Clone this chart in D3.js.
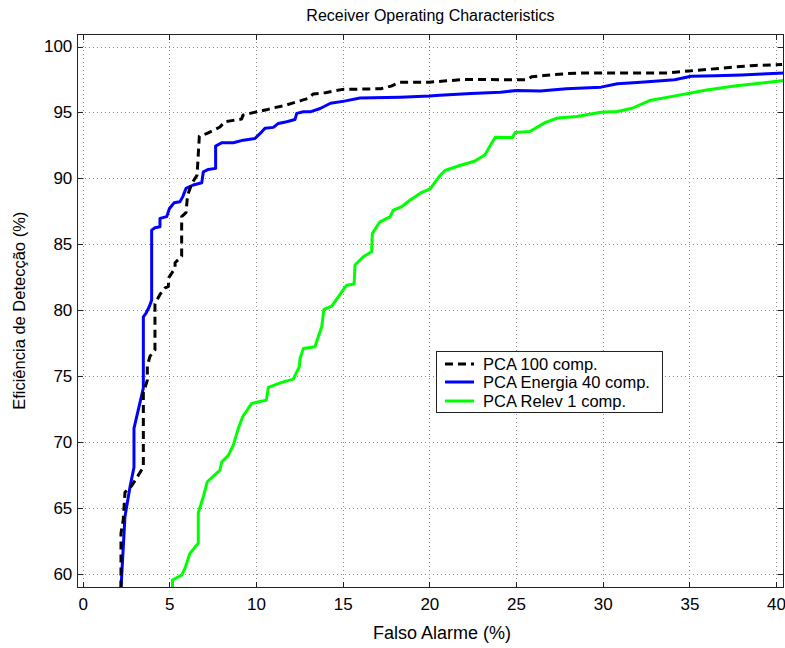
<!DOCTYPE html>
<html>
<head>
<meta charset="utf-8">
<script src="https://cdn.jsdelivr.net/npm/d3@7"></script>
<style>
  html, body { margin: 0; padding: 0; background: #fff; }
  svg { display: block; font-family: "Liberation Sans", Arial, sans-serif; }
</style>
</head>
<body>
<svg id="chart" width="785" height="648"></svg>
<script>
// ROC curves: false alarm rate (%) vs detection efficiency (%)
const pca100X = [2.21,2.21,2.34,2.44,2.83,3.5,3.5,3.73,3.73,3.88,4.17,4.17,4.46,4.75,4.94,4.98,5.33,5.33,5.71,5.71,5.96,6.05,6.29,6.6,6.73,7.15,7.54,7.92,8.2,8.69,9.17,9.25,9.65,10.04,10.6,11.0,11.58,12.15,12.54,13.0,13.3,14.0,15.0,17.2,17.8,18.3,20.0,21.0,22.0,25.6,25.9,26.6,27.9,28.7,33.8,35.0,36.1,37.6,38.8,40.35];
const pca100Y = [58.9,63.1,64.1,66.2,66.7,68.1,73.7,74.7,75.8,76.5,77.0,80.5,81.2,81.7,81.8,82.5,83.2,83.6,84.1,87.1,87.4,88.7,89.6,90.25,93.2,93.4,93.65,93.9,94.3,94.4,94.5,94.8,94.93,95.05,95.2,95.35,95.5,95.73,95.88,96.06,96.4,96.5,96.75,96.8,97.0,97.3,97.3,97.4,97.5,97.48,97.7,97.8,97.94,98.0,98.0,98.15,98.27,98.45,98.57,98.63];

const energiaX = [2.21,2.44,2.73,2.96,2.96,3.5,3.5,3.65,3.84,3.98,3.98,4.17,4.46,4.46,4.85,5.0,5.27,5.61,5.77,5.96,6.38,6.87,6.96,7.25,7.67,7.67,8.02,8.69,9.27,9.94,10.33,10.52,11.0,11.29,11.77,12.25,12.35,12.73,13.12,13.7,14.3,15.1,16.0,18.3,20.0,20.6,22.4,24.1,25.05,26.4,27.9,29.9,30.85,32.2,34.15,35.1,36.5,38.0,39.2,40.45];
const energiaY = [58.9,64.35,66.6,68.1,71.05,74.1,79.5,79.77,80.27,80.77,86.08,86.26,86.33,86.97,87.1,87.7,88.15,88.23,88.6,89.24,89.5,89.67,90.5,90.68,90.76,92.45,92.7,92.7,92.9,93.03,93.53,93.8,93.87,94.17,94.3,94.47,94.93,95.05,95.05,95.3,95.7,95.86,96.09,96.16,96.24,96.3,96.43,96.54,96.67,96.62,96.8,96.92,97.18,97.3,97.48,97.74,97.78,97.84,97.92,97.99];

const relevX = [5.18,5.18,5.71,5.9,6.19,6.67,6.67,6.96,7.19,7.92,8.02,8.4,8.69,8.98,9.23,9.75,10.6,10.71,11.48,12.15,12.5,12.54,12.73,13.4,13.79,13.92,14.37,14.95,15.23,15.66,15.71,16.19,16.67,16.71,17.15,17.73,17.92,18.4,18.88,19.5,20.05,20.6,20.9,21.8,22.6,23.2,23.5,23.8,24.8,24.95,25.8,26.7,27.4,28.5,29.9,30.85,31.7,32.7,33.95,35.3,36.0,37.6,39.2,40.45];
const relevY = [58.94,59.55,59.92,60.43,61.57,62.33,64.65,65.86,67.0,67.88,68.5,69.0,69.78,71.05,71.93,72.94,73.19,74.15,74.53,74.78,75.72,76.35,77.11,77.23,78.75,80.07,80.32,81.4,81.9,81.99,83.43,84.06,84.44,85.83,86.71,87.09,87.6,87.85,88.35,88.9,89.2,90.2,90.6,91.0,91.3,91.77,92.45,93.13,93.1,93.49,93.56,94.25,94.58,94.7,95.02,95.07,95.32,95.9,96.2,96.54,96.71,97.0,97.23,97.43];

const seriesNames = ["PCA 100 comp.", "PCA Energia 40 comp.", "PCA Relev 1 comp."];
const seriesColors = ["#000000", "#0000ff", "#00ff00"];
const seriesDash = ["8,5", null, null];
const xTicks = [0, 5, 10, 15, 20, 25, 30, 35, 40];
const yTicks = [60, 65, 70, 75, 80, 85, 90, 95, 100];

const titleText = "Receiver Operating Characteristics";
const xLabelText = "Falso Alarme (%)";
const yLabelText = "Eficiência de Detecção (%)";

(function drawChart() {
  const series = [
    { name: seriesNames[0], xs: pca100X, ys: pca100Y, color: seriesColors[0], dash: seriesDash[0] },
    { name: seriesNames[1], xs: energiaX, ys: energiaY, color: seriesColors[1], dash: seriesDash[1] },
    { name: seriesNames[2], xs: relevX, ys: relevY, color: seriesColors[2], dash: seriesDash[2] }
  ];

  const svg = d3.select("#chart");
  const pL = 77.3, pR = 783.5, pT = 34, pB = 587.5;

  const x = d3.scaleLinear().domain([-0.31, 40.43]).range([pL, pR]);
  const y = d3.scaleLinear().domain([58.98, 100.95]).range([pB, pT]);

  svg.append("rect").attr("x", pL).attr("y", pT)
    .attr("width", pR - pL).attr("height", pB - pT).attr("fill", "#fff");

  // dotted grid
  const grid = svg.append("g").attr("stroke", "#8a8a8a").attr("stroke-width", 1)
    .attr("stroke-dasharray", "1,3").attr("shape-rendering", "crispEdges");
  grid.selectAll("line.gx").data(xTicks).join("line").attr("class", "gx")
    .attr("x1", d => Math.round(x(d)) + 0.5).attr("x2", d => Math.round(x(d)) + 0.5)
    .attr("y1", pT).attr("y2", pB);
  grid.selectAll("line.gy").data(yTicks).join("line").attr("class", "gy")
    .attr("y1", d => Math.round(y(d)) + 0.5).attr("y2", d => Math.round(y(d)) + 0.5)
    .attr("x1", pL).attr("x2", pR);

  svg.append("defs").append("clipPath").attr("id", "plotClip")
    .append("rect").attr("x", pL).attr("y", pT)
    .attr("width", pR - pL).attr("height", pB - pT);

  const line = d3.line().x(d => x(d[0])).y(d => y(d[1]));
  const curves = svg.append("g").attr("clip-path", "url(#plotClip)");
  // green first, then blue, then the dashed black on top
  [2, 1, 0].forEach(i => {
    const s = series[i];
    const pts = s.xs.map((v, k) => [v, s.ys[k]]);
    curves.append("path").datum(pts)
      .attr("d", line)
      .attr("fill", "none")
      .attr("stroke", s.color)
      .attr("stroke-width", 3)
      .attr("stroke-linejoin", "round")
      .attr("stroke-dasharray", s.dash);
  });

  // ticks inside on all four sides
  const tickLen = 6;
  const axisColor = "#222";
  const gBottom = svg.append("g").attr("transform", `translate(0,${pB})`)
    .call(d3.axisBottom(x).tickValues(xTicks).tickSizeInner(-tickLen).tickSizeOuter(0).tickPadding(10));
  const gTop = svg.append("g").attr("transform", `translate(0,${pT})`)
    .call(d3.axisTop(x).tickValues(xTicks).tickSizeInner(-tickLen).tickSizeOuter(0).tickFormat(""));
  const gLeft = svg.append("g").attr("transform", `translate(${pL},0)`)
    .call(d3.axisLeft(y).tickValues(yTicks).tickSizeInner(-tickLen).tickSizeOuter(0).tickPadding(5));
  const gRight = svg.append("g").attr("transform", `translate(${pR},0)`)
    .call(d3.axisRight(y).tickValues(yTicks).tickSizeInner(-tickLen).tickSizeOuter(0).tickFormat(""));

  [gBottom, gTop, gLeft, gRight].forEach(g => {
    g.select(".domain").remove();
    g.selectAll(".tick line").attr("stroke", axisColor).attr("shape-rendering", "crispEdges");
    g.selectAll(".tick text").attr("fill", "#000")
      .style("font-family", '"Liberation Sans", Arial, sans-serif').style("font-size", "17px");
  });

  svg.append("rect").attr("x", pL).attr("y", pT)
    .attr("width", pR - pL).attr("height", pB - pT)
    .attr("fill", "none").attr("stroke", axisColor).attr("stroke-width", 1)
    .attr("shape-rendering", "crispEdges");

  // title and axis labels
  svg.append("text").attr("x", (pL + pR) / 2).attr("y", 21)
    .attr("text-anchor", "middle").style("font-size", "16px").text(titleText);
  svg.append("text").attr("x", 442).attr("y", 639)
    .attr("text-anchor", "middle").style("font-size", "18px").text(xLabelText);
  svg.append("text").attr("transform", `translate(25,${(pT + pB) / 2}) rotate(-90)`)
    .attr("text-anchor", "middle").style("font-size", "16.5px").text(yLabelText);

  // legend
  const lg = svg.append("g");
  lg.append("rect").attr("x", 436.5).attr("y", 351.5).attr("width", 225.5).attr("height", 60.5)
    .attr("fill", "#fff").attr("stroke", axisColor).attr("stroke-width", 1)
    .attr("shape-rendering", "crispEdges");
  const rowY = [364, 382, 401];
  series.forEach((s, i) => {
    lg.append("line").attr("x1", 445).attr("x2", 474).attr("y1", rowY[i]).attr("y2", rowY[i])
      .attr("stroke", s.color).attr("stroke-width", 3).attr("stroke-dasharray", s.dash);
    lg.append("text").attr("x", 483).attr("y", rowY[i]).attr("dy", "0.35em")
      .style("font-size", "16.5px").text(s.name);
  });
})();
</script>
</body>
</html>
